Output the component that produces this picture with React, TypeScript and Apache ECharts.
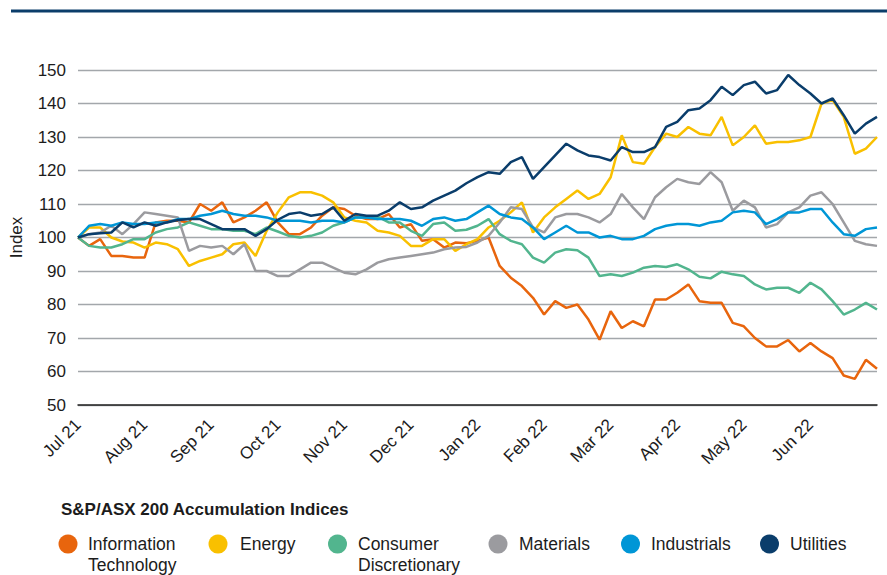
import React, { useEffect, useRef } from 'react';
import * as echarts from 'echarts';

const monthLabels = ['Jul 21', 'Aug 21', 'Sep 21', 'Oct 21', 'Nov 21', 'Dec 21', 'Jan 22', 'Feb 22', 'Mar 22', 'Apr 22', 'May 22', 'Jun 22'];
const pointsPerMonth = 6;

const legendTitle = 'S&P/ASX 200 Accumulation Indices';
const seriesNames = ['Information Technology', 'Energy', 'Consumer Discretionary', 'Materials', 'Industrials', 'Utilities'];
const legendLabels = ['Information\nTechnology', 'Energy', 'Consumer\nDiscretionary', 'Materials', 'Industrials', 'Utilities'];
const seriesColors = ['#E8650D', '#F9C000', '#52B58E', '#9B9B9F', '#0096D6', '#0A3D6B'];

const informationTechnology = [
  100, 97.5, 99.5, 94.5, 94.5, 94, 94, 104.5, 105, 105, 104.5, 110, 108, 110.5, 104.5, 106, 108, 110.5, 104.5,
  101, 101, 103, 106.5, 109, 108.5, 106.5, 105.5, 105.5, 107, 103, 104, 99, 99.5, 97, 98.5, 98.3, 99, 100,
  91.5, 88, 85.5, 82, 77, 81, 79, 80, 75.5, 69.5, 78, 73, 75, 73.5, 81.5, 81.5, 83.5,
  86, 81, 80.5, 80.5, 74.5, 73.5, 70, 67.5, 67.5, 69.4, 66, 68.5, 66, 64, 58.8, 57.8, 63.5, 60.8,
];
const energy = [
  100, 103, 103, 100, 98.8, 98.5, 97, 98.5, 98, 96.5, 91.5, 93, 94, 95, 98, 98.5, 94.5, 102, 107.5,
  112, 113.5, 113.5, 112.5, 110.5, 106, 105, 104.5, 102, 101.5, 100.5, 97.5, 97.5, 99.5, 99.5, 96, 98, 99.5, 103,
  105, 107.5, 110.5, 101.5, 106, 109, 111.5, 114, 111.5, 113, 118, 130.5, 122.5, 122, 127, 131, 130,
  133, 131, 130.5, 136, 127.5, 130, 133.5, 128, 128.5, 128.5, 129, 130, 140, 141, 136, 125, 126.5, 130,
];
const consumerDiscretionary = [
  100, 97.5, 97, 97, 98, 99.5, 99.5, 101.5, 102.5, 103, 104.5, 103.5, 102.5, 102.5, 102, 102, 101, 103, 101.8,
  100.5, 100, 100.5, 101.5, 103.5, 104.5, 106, 106, 106.2, 104.5, 104.5, 102, 100.5, 104, 104.5, 102, 102.3, 103.5, 105.5,
  101, 99, 98, 94, 92.5, 95.5, 96.5, 96.2, 94, 88.5, 89, 88.5, 89.5, 91, 91.5, 91.2, 92,
  90.5, 88.3, 87.8, 89.8, 89, 88.5, 86, 84.5, 85, 85, 83.5, 86.5, 84.5, 81, 77, 78.5, 80.5, 78.5,
];
const materials = [
  100, 101, 101.5, 103.5, 101, 104, 107.5, 107, 106.5, 106, 96, 97.5, 97, 97.5, 95, 98, 90, 90, 88.5,
  88.5, 90.5, 92.5, 92.5, 91, 89.5, 89, 90.5, 92.5, 93.5, 94, 94.5, 95, 95.5, 96.5, 97, 97.2, 98.5, 100.5,
  104.5, 109, 108.5, 103, 101.5, 106, 107, 107, 106, 104.5, 107, 113, 109, 105.5, 112, 115, 117.5,
  116.5, 116, 119.5, 116.5, 108, 111, 109, 103, 104, 107.5, 109, 112.5, 113.5, 110, 104.5, 99, 98, 97.5,
];
const industrials = [
  100, 103.5, 104, 103.5, 104.5, 104, 104, 104.5, 104.5, 105.5, 105.5, 106.5, 107, 108, 107, 106.5, 106.5, 106, 105,
  105, 105, 104.5, 105, 105, 104.5, 106, 106, 105.5, 105.5, 105.5, 105, 103.5, 105.5, 106, 105, 105.5, 107.5, 109.5,
  107, 106, 105.5, 103, 99.5, 101.5, 103.5, 101.5, 101.5, 100, 100.5, 99.5, 99.5, 100.5, 102.5, 103.5, 104,
  104, 103.5, 104.5, 105, 107.5, 108, 107.5, 104, 105.5, 107.5, 107.5, 108.5, 108.5, 104.5, 101, 100.5, 102.5, 103,
];
const utilities = [
  100, 101, 101.3, 101.5, 104.5, 103, 104.5, 103.5, 104.5, 105.2, 105.5, 105.5, 104, 102.5, 102.5, 102.5, 100.5, 102.5, 105.3,
  107, 107.5, 106.5, 107, 109, 105, 107, 106.5, 106.5, 108, 110.5, 108.5, 109, 111, 112.5, 114, 116.2, 118, 119.5,
  119, 122.5, 124, 117.5, 121, 124.5, 128, 126, 124.5, 124, 123, 127, 125.5, 125.5, 127, 133, 134.5,
  138, 138.5, 141, 145, 142.5, 145.5, 146.5, 143, 144, 148.5, 145.5, 143, 140, 141.5, 136.5, 131, 134, 136,
];
const seriesValues = [informationTechnology, energy, consumerDiscretionary, materials, industrials, utilities];

const FONT = '"Liberation Sans", Arial, Helvetica, sans-serif';
const TEXT = '#1c1c1c';

export default function App() {
  const ref = useRef<HTMLDivElement>(null);
  useEffect(() => {
    document.body.style.margin = '0';
    if (!ref.current) return;
    const chart = echarts.init(ref.current, undefined, { renderer: 'svg' });

    const legendCircleX = [68, 218, 337.5, 498, 630.5, 769.5];
    const legendTextX = [88, 240, 358, 519, 651, 790];
    const legendGraphics: any[] = [];
    legendLabels.forEach((label, i) => {
      legendGraphics.push({
        type: 'circle',
        shape: { cx: legendCircleX[i], cy: 544, r: 9.5 },
        style: { fill: seriesColors[i] },
      });
      legendGraphics.push({
        type: 'text',
        x: legendTextX[i],
        y: 534,
        style: {
          text: label,
          fill: TEXT,
          font: `17.5px ${FONT}`,
          lineHeight: 20.5,
          textVerticalAlign: 'top',
          textAlign: 'left',
        },
      });
    });

    const maxX = monthLabels.length * pointsPerMonth;

    chart.setOption({
      animation: false,
      textStyle: { fontFamily: FONT },
      grid: { left: 70, right: 10, top: 70, bottom: 170, containLabel: false },
      xAxis: {
        type: 'value',
        min: 0,
        max: maxX,
        interval: pointsPerMonth,
        axisLine: { show: true, lineStyle: { color: '#222', width: 1.5 } },
        axisTick: { show: false },
        splitLine: { show: false },
        axisLabel: {
          rotate: 45,
          margin: 17,
          fontSize: 17,
          color: TEXT,
          fontFamily: FONT,
          showMaxLabel: false,
          formatter: (v: number) => monthLabels[Math.round(v / pointsPerMonth)] ?? '',
        },
      },
      yAxis: {
        type: 'value',
        min: 50,
        max: 150,
        interval: 10,
        name: 'Index',
        nameLocation: 'middle',
        nameGap: 53,
        nameTextStyle: { fontSize: 17, color: TEXT, fontFamily: FONT },
        axisLine: { show: false },
        axisTick: { show: false },
        axisLabel: { fontSize: 17, color: TEXT, margin: 12, fontFamily: FONT },
        splitLine: { show: true, lineStyle: { color: '#a3a7ab', width: 1.3 } },
      },
      series: seriesNames.map((name, si) => ({
        name,
        type: 'line',
        showSymbol: false,
        symbol: 'none',
        data: seriesValues[si].map((v, i) => [i, v]),
        lineStyle: { color: seriesColors[si], width: 2.5 },
        itemStyle: { color: seriesColors[si] },
        z: 2 + si,
      })),
      graphic: [
        {
          type: 'line',
          shape: { x1: 11, y1: 11, x2: 887, y2: 11 },
          style: { stroke: '#0B3D6A', lineWidth: 3 },
        },
        {
          type: 'text',
          x: 61,
          y: 509,
          style: {
            text: legendTitle,
            fill: TEXT,
            font: `bold 17px ${FONT}`,
            textVerticalAlign: 'middle',
            textAlign: 'left',
          },
        },
        ...legendGraphics,
      ],
    });
    return () => chart.dispose();
  }, []);
  return (
    <div
      ref={ref}
      style={{ position: 'absolute', left: 0, top: 0, width: 887, height: 575 }}
    />
  );
}
